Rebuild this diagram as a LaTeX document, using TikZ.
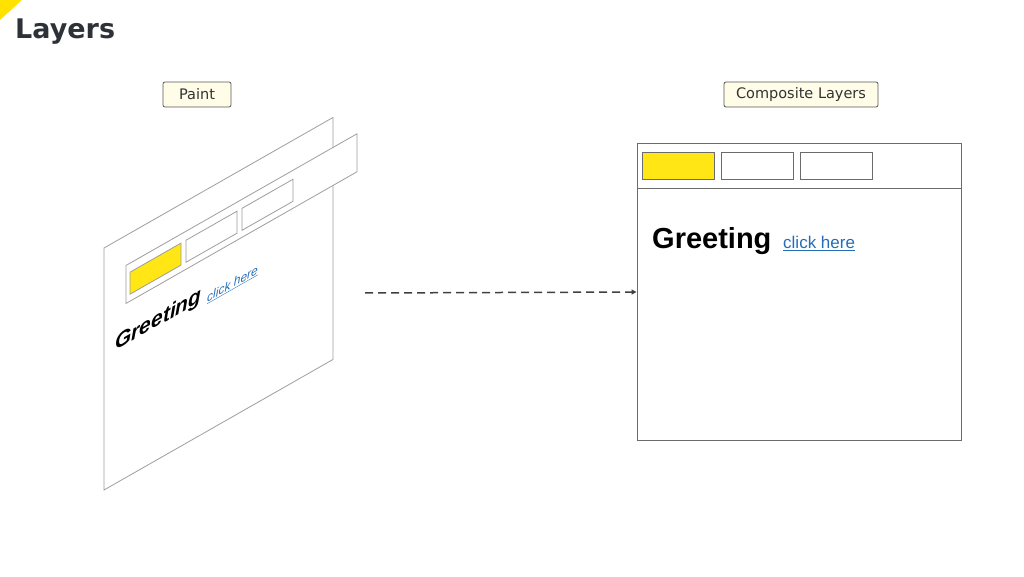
\documentclass[tikz,border=0pt]{standalone}
\usepackage{fontspec}
\setmainfont{DejaVu Sans}
\newfontfamily\helvfont{Liberation Sans}
\usetikzlibrary{arrows.meta}
\definecolor{titleGray}{RGB}{44,50,56}
\definecolor{markYellow}{RGB}{255,226,0}
\definecolor{btnYellow}{RGB}{255,230,20}
\definecolor{labelCream}{RGB}{255,252,232}
\definecolor{linkBlue}{RGB}{35,110,185}
\begin{document}
\begin{tikzpicture}
[x=1pt,y=1pt,
  layerDecorate/.style={draw=black!38,line width=0.8pt},%
  boxDecorate/.style={draw=black!58,line width=1pt},%
  labelDecorate/.style={draw=black!65,fill=labelCream,rounded corners=2pt,
    line width=0.8pt,minimum height=25pt,inner xsep=8pt,inner ysep=0pt,
    text=black!80,font=\fontsize{14.5}{16}\selectfont},%
  buttonDecorate/.style={boxDecorate,minimum width=72pt,minimum height=27pt,inner sep=0pt},%
  arrowDecorate/.style={dash pattern=on 8pt off 5pt,line width=1.5pt,draw=black!75,
    -{Triangle[length=5pt,width=5pt]}}]
\useasboundingbox (0,0) rectangle (1024,576);
%% title
\fill[markYellow] (0,576) -- (22,576) -- (0,556) -- cycle;
\node (title) [anchor=base west,inner sep=0pt,text=titleGray,
  font=\fontsize{27}{30}\selectfont\bfseries] at (15,537) {Layers};
%% labels
\node (paint) at (197,481.5) [labelDecorate,minimum width=68pt] {Paint};
\node (compositeLabel) at (801,481.5) [labelDecorate,minimum width=154pt] {Composite Layers};
%% paint layers, seen from the side
\begin{scope}[shift={(104,86)},yslant=0.57]
  \fill[white] (0,0) rectangle (229,242);
  \draw[layerDecorate] (0,0) rectangle (229,242);
  \fill[white] (22,174) rectangle (253,212);
  \draw[layerDecorate] (22,174) rectangle (253,212);
  \foreach \u/\colour in {26/btnYellow, 82/white, 138/white}
  {
    \draw[layerDecorate,fill=\colour] (\u,181) rectangle (\u+51,203);
  }
  \node (paintGreeting) [anchor=base west,inner sep=0pt,transform shape,
    font=\helvfont\fontsize{21}{23}\selectfont\bfseries\itshape] at (11,133) {Greeting};
  \node (paintLink) [anchor=base west,inner sep=0pt,transform shape,text=linkBlue,
    font=\helvfont\fontsize{12}{14}\selectfont\itshape] at (103,129) {\underline{click here}};
\end{scope}
%% composited page
\node (composite) at (799,284) [boxDecorate,minimum width=324pt,minimum height=296pt,inner sep=0pt] {};
\draw[boxDecorate] ([yshift=-45pt]composite.north west) -- ([yshift=-45pt]composite.north east);
\foreach \nodename/\x/\colour in {btnA/678/btnYellow, btnB/757/white, btnC/836/white}
{
  \node (\nodename) at (\x,409.5) [buttonDecorate,fill=\colour] {};
}
\node (greeting) [anchor=base west,inner sep=0pt,
  font=\helvfont\fontsize{29}{32}\selectfont\bfseries] at (652,327) {Greeting};
\node (link) [anchor=base west,inner sep=0pt,text=linkBlue,
  font=\helvfont\fontsize{17}{19}\selectfont] at (783,327) {\underline{click here}};
%% compositing step
\coordinate (paintEnd) at (365,283);
\draw[arrowDecorate] (paintEnd) -- (composite.west);
\end{tikzpicture}
\end{document}
